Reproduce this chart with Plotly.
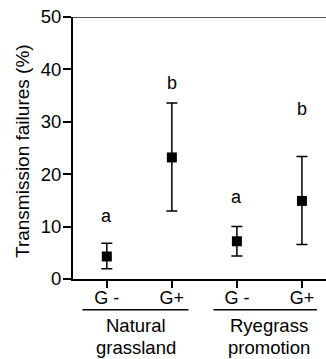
import plotly.graph_objects as go

x_pos = [0, 1, 2, 3]
tick_labels = ["G -", "G+", "G -", "G+"]
means = [4.3, 23.2, 7.2, 14.9]
err_up = [6.8, 33.6, 10.0, 23.4]
err_low = [1.95, 13.0, 4.4, 6.6]
letters = ["a", "b", "a", "b"]
letter_y = [12.0, 37.4, 15.6, 32.5]
groups = [["Natural", "grassland"], ["Ryegrass", "promotion"]]
group_x = [[-0.375, 1.255], [1.64, 3.23]]
group_center = [0.45, 2.49]

FONT = "Liberation Sans, Arial, sans-serif"

fig = go.Figure()
fig.add_trace(go.Scatter(
    x=x_pos, y=means, mode="markers",
    marker=dict(symbol="square", size=10, color="black"),
    error_y=dict(type="data", symmetric=False,
                 array=[u - m for u, m in zip(err_up, means)],
                 arrayminus=[m - l for m, l in zip(means, err_low)],
                 color="black", thickness=1.5, width=5.5),
    showlegend=False,
))

annotations = []
for xi, t, yy in zip(x_pos, letters, letter_y):
    annotations.append(dict(x=xi, y=yy, xref="x", yref="y", text=t, showarrow=False,
                            font=dict(size=18, color="black", family=FONT)))

shapes = []
for (x0, x1), (l1, l2), xc in zip(group_x, groups, group_center):
    shapes.append(dict(type="line", xref="x", yref="paper", x0=x0, x1=x1, y0=-0.117, y1=-0.117,
                       line=dict(color="black", width=1.5)))
    annotations.append(dict(x=xc, y=-0.177, xref="x", yref="paper", text=l1, showarrow=False,
                            font=dict(size=18.5, color="black", family=FONT), yanchor="middle"))
    annotations.append(dict(x=xc, y=-0.26, xref="x", yref="paper", text=l2, showarrow=False,
                            font=dict(size=18.5, color="black", family=FONT), yanchor="middle"))

shapes.append(dict(type="line", xref="paper", yref="y", x0=0, x1=1, y0=50, y1=50,
                   line=dict(color="#555555", width=2)))

annotations.append(dict(x=-0.2, y=0.49, xref="paper", yref="paper",
                        xanchor="center", yanchor="middle",
                        text="Transmission failures (%)", textangle=-90, showarrow=False,
                        font=dict(size=19, color="black", family=FONT)))

fig.update_layout(
    width=326, height=359,
    margin=dict(l=73, r=0, t=17, b=80),
    paper_bgcolor="white", plot_bgcolor="white",
    font=dict(family=FONT, color="black", size=18),
    annotations=annotations, shapes=shapes,
    xaxis=dict(range=[-0.52, 3.37], tickvals=x_pos, ticktext=tick_labels,
               showgrid=False, zeroline=False, showline=True, linecolor="black", linewidth=2,
               ticks="outside", ticklen=7, tickwidth=1.5, tickcolor="black",
               ticklabelstandoff=-6,
               tickfont=dict(size=18, family=FONT, color="black")),
    yaxis=dict(range=[0, 50], tickvals=[0, 10, 20, 30, 40, 50],
               showgrid=False, zeroline=False, showline=True, linecolor="black", linewidth=2,
               ticks="outside", ticklen=8, tickwidth=1.5, tickcolor="black",
               ticklabelstandoff=-2,
               tickfont=dict(size=18.5, family=FONT, color="black")),
)

fig.write_html("out.html", config={"displayModeBar": False},
               post_script="document.body.style.margin='0';document.body.style.overflow='hidden';")
